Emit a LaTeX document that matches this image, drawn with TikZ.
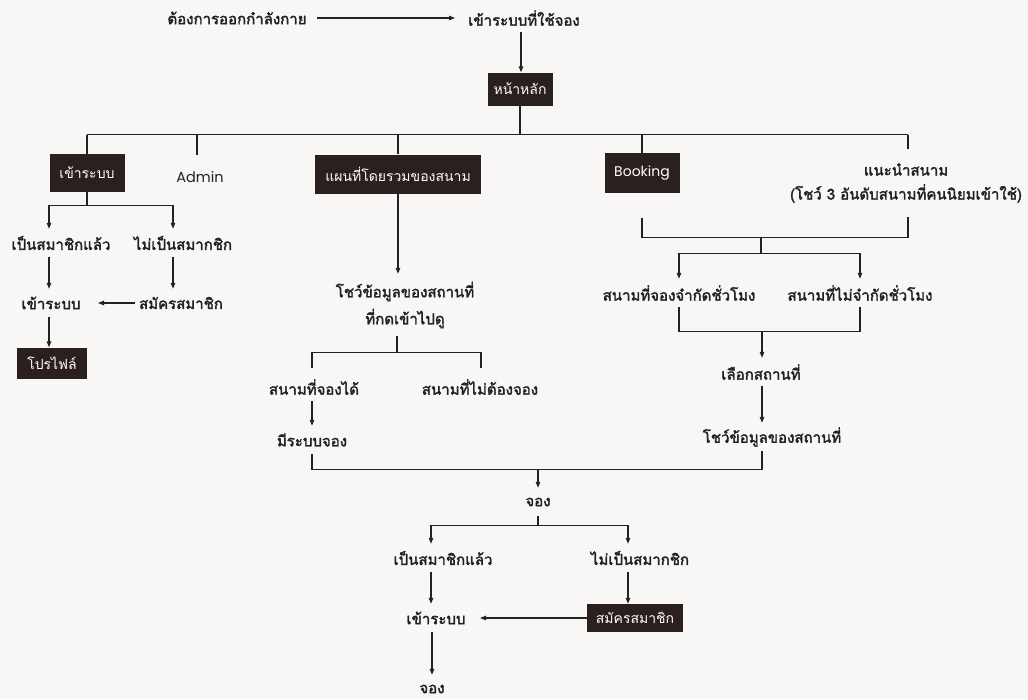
\documentclass[tikz,border=0pt]{standalone}
\usepackage{fontspec}
\setmainfont{Loma}[Script=Thai]
\newfontfamily\thaibold{Loma}[Script=Thai, FakeBold=2.2]
\newfontfamily\latinfont{Poppins}
\usetikzlibrary{arrows.meta}
\definecolor{ink}{HTML}{222222}
\definecolor{boxc}{HTML}{2A201D}
\definecolor{paper}{HTML}{F8F7F5}
\begin{document}
\begin{tikzpicture}[x=1pt,y=-1pt,
  txt/.style={font=\fontsize{15}{18}\selectfont\thaibold, text=ink, inner sep=0pt, minimum height=28pt},
  blk/.style={fill=boxc, text=white, font=\fontsize{14}{16}\selectfont, inner sep=0pt},
  ln/.style={draw=ink, line width=1.1pt},
  arr/.style={ln, -{Triangle[length=6pt,width=4.5pt]}}
]
\fill[paper] (0,0) rectangle (1028,699);
\useasboundingbox (0,0) rectangle (1028,699);

% top
\node[txt] (want) at (237,18) {ต้องการออกกำลังกาย};
\node[txt] (sys) at (524,18) {เข้าระบบที่ใช้จอง};
\node[blk, minimum width=65pt, minimum height=33pt] (home) at (520,89) {หน้าหลัก};

% second row
\node[blk, minimum width=75pt, minimum height=38pt] (loginbox) at (87,173) {เข้าระบบ};
\node[txt, font=\fontsize{14.5}{16}\selectfont\latinfont, minimum height=44pt] (admin) at (200,177) {Admin};
\node[blk, minimum width=166pt, minimum height=39pt] (mapbox) at (398,174) {แผนที่โดยรวมของสนาม};
\node[blk, minimum width=75pt, minimum height=40pt, font=\fontsize{14}{16}\selectfont\latinfont] (booking) at (642,173) {Booking};
\node[txt, align=center, font=\fontsize{15}{24}\selectfont\thaibold, minimum height=68pt] (recommend) at (906,183) {แนะนำสนาม\\(โชว์ 3 อันดับสนามที่คนนิยมเข้าใช้)};

% left column
\node[txt] (member1) at (61,243) {เป็นสมาชิกแล้ว};
\node[txt] (nonmember1) at (183,243) {ไม่เป็นสมากชิก};
\node[txt] (login1) at (51,303) {เข้าระบบ};
\node[txt] (signup1) at (181,303) {สมัครสมาชิก};
\node[blk, minimum width=70pt, minimum height=31pt] (profile) at (52,363) {โปรไฟล์};

% middle column
\node[txt, align=center, font=\fontsize{15}{27}\selectfont\thaibold, minimum height=62pt] (info1) at (405,305) {โชว์ข้อมูลของสถานที่\\ที่กดเข้าไปดู};
\node[txt] (bookable) at (314,387) {สนามที่จองได้};
\node[txt] (nobook) at (480,387) {สนามที่ไม่ต้องจอง};
\node[txt] (hasbook) at (312,440) {มีระบบจอง};

% right column
\node[txt] (limited) at (679,293) {สนามที่จองจำกัดชั่วโมง};
\node[txt] (unlimited) at (860,293) {สนามที่ไม่จำกัดชั่วโมง};
\node[txt] (choose) at (761,372) {เลือกสถานที่};
\node[txt] (info2) at (772,437) {โชว์ข้อมูลของสถานที่};

% bottom
\node[txt] (book1) at (538,502) {จอง};
\node[txt] (member2) at (443,558) {เป็นสมาชิกแล้ว};
\node[txt] (nonmember2) at (640,558) {ไม่เป็นสมากชิก};
\node[txt] (login2) at (436,618) {เข้าระบบ};
\node[blk, minimum width=96pt, minimum height=28pt] (signup2) at (635,618) {สมัครสมาชิก};
\node[txt] (book2) at (432,689) {จอง};

% connectors: top
\draw[arr] (want.east -| 317,0) -- (sys.west -| 455,0);
\draw[arr] (521,0 |- sys.south) -- (521,0 |- home.north);
\draw[ln] (home.south) -- ++(0,29) coordinate (bus);
\draw[ln] (bus -| 87,0) -- (bus -| 908,0);
\draw[ln] (bus -| loginbox) -- (loginbox.north);
\draw[ln] (bus -| 197,0) -- (197,0 |- admin.north);
\draw[ln] (bus -| mapbox) -- (mapbox.north);
\draw[ln] (bus -| booking) -- (booking.north);
\draw[ln] (bus -| 908,0) -- (908,0 |- recommend.north);

% left column
\draw[ln] (loginbox.south) -- ++(0,13) coordinate (jl);
\draw[arr] (jl) -| (49,0 |- member1.north);
\draw[arr] (jl) -| (173,0 |- nonmember1.north);
\draw[arr] (49,0 |- member1.south) -- (49,0 |- login1.north);
\draw[arr] (173,0 |- nonmember1.south) -- (173,0 |- signup1.north);
\draw[arr] (signup1.west -| 135,0) -- (login1.east -| 98,0);
\draw[arr] (49,0 |- login1.south) -- (49,0 |- profile.north);

% middle column
\draw[arr] (mapbox.south) -- (mapbox.south |- info1.north);
\draw[ln] (info1.south -| 397,0) -- ++(0,16) coordinate (jm);
\draw[ln, shorten >=5pt] (jm) -| (312,0 |- bookable.north);
\draw[ln, shorten >=5pt] (jm) -| (481,0 |- nobook.north);
\draw[arr] (312,0 |- bookable.south) -- (312,0 |- hasbook.north);
\draw[ln] (312,0 |- hasbook.south) -- ++(0,15) coordinate (bb) -- (bb -| 762,0) -- (762,0 |- info2.south);
\draw[arr] (bb -| book1) -- (book1.north);

% right column
\draw[ln] ([yshift=-25pt]booking.south) -- ++(0,19) coordinate (jb) -- (jb -| 908,0) -- (908,0 |- recommend.south);
\draw[ln] (jb -| 761,0) -- ++(0,16) coordinate (jb2);
\draw[arr] (jb2) -| (679,0 |- limited.north);
\draw[arr] (jb2) -| (860,0 |- unlimited.north);
\draw[ln] (limited.south) -- ++(0,24) coordinate (jc) -- (jc -| unlimited) -- (unlimited.south);
\draw[arr] (jc -| 762,0) -- (762,0 |- choose.north);
\draw[arr] (762,0 |- choose.south) -- (762,0 |- info2.north);

% bottom
\draw[ln] (book1.south) -- ++(0,9) coordinate (jd);
\draw[arr] (jd) -| (431,0 |- member2.north);
\draw[arr] (jd) -| (628,0 |- nonmember2.north);
\draw[arr] (431,0 |- member2.south) -- (431,0 |- login2.north);
\draw[arr] (628,0 |- nonmember2.south) -- (628,0 |- signup2.north);
\draw[arr] (signup2.west) -- (login2.east -| 480,0);
\draw[arr] (432,0 |- login2.south) -- (432,0 |- book2.north);
\end{tikzpicture}
\end{document}
